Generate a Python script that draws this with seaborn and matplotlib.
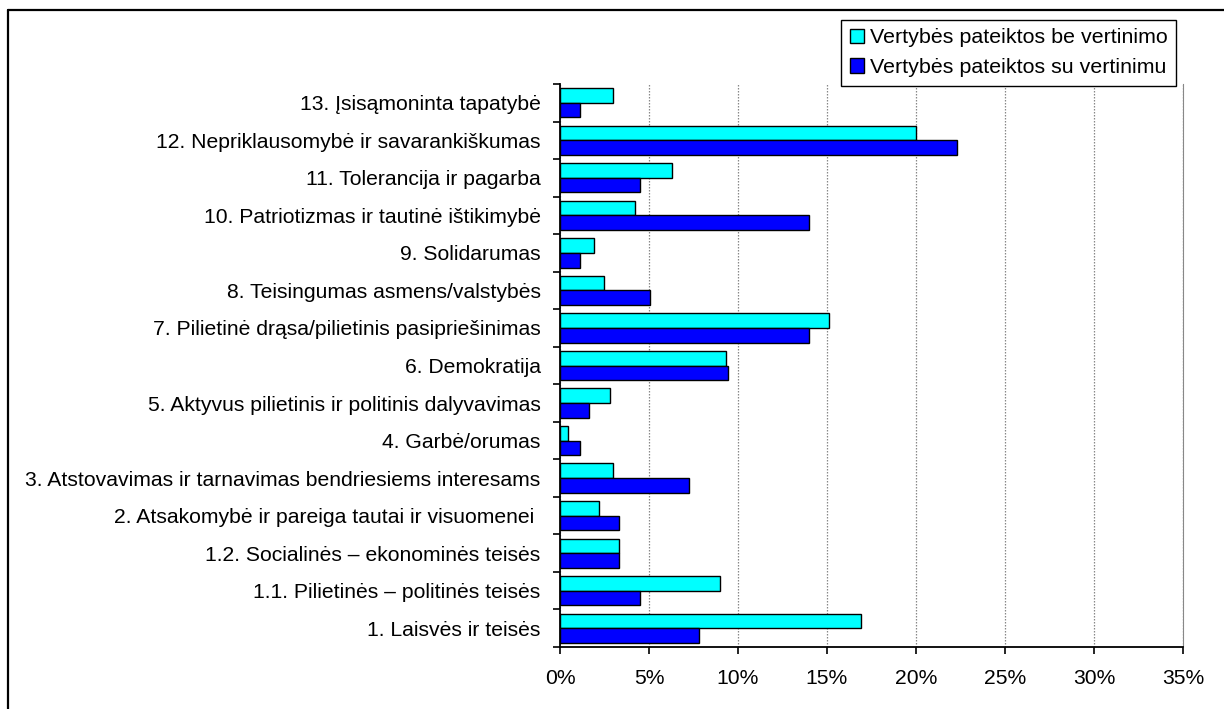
import numpy as np
import pandas as pd
import matplotlib
matplotlib.use('Agg')
import matplotlib.pyplot as plt
from matplotlib.lines import Line2D
from matplotlib.ticker import FixedLocator, PercentFormatter
import seaborn as sns

# ==========================================
# DATA (%)
# ==========================================
kategorijos = [
    '13. Įsisąmoninta tapatybė',
    '12. Nepriklausomybė ir savarankiškumas',
    '11. Tolerancija ir pagarba',
    '10. Patriotizmas ir tautinė ištikimybė',
    '9. Solidarumas',
    '8. Teisingumas asmens/valstybės',
    '7. Pilietinė drąsa/pilietinis pasipriešinimas',
    '6. Demokratija',
    '5. Aktyvus pilietinis ir politinis dalyvavimas',
    '4. Garbė/orumas',
    '3. Atstovavimas ir tarnavimas bendriesiems interesams',
    '2. Atsakomybė ir pareiga tautai ir visuomenei ',
    '1.2. Socialinės – ekonominės teisės',
    '1.1. Pilietinės – politinės teisės',
    '1. Laisvės ir teisės',
]
be_vertinimo = [3.0, 20.0, 6.3, 4.2, 1.9, 2.5, 15.1, 9.3, 2.8, 0.45, 3.0, 2.2, 3.3, 9.0, 16.9]
su_vertinimu = [1.1, 22.3, 4.5, 14.0, 1.1, 5.05, 14.0, 9.45, 1.65, 1.1, 7.25, 3.3, 3.3, 4.5, 7.8]
serijos = ['Vertybės pateiktos be vertinimo', 'Vertybės pateiktos su vertinimu']
spalvos = ['#00FFFF', '#0000FF']
x_ticks = [0, 5, 10, 15, 20, 25, 30, 35]

df = pd.DataFrame({
    'kategorija': kategorijos * 2,
    'reiksme': be_vertinimo + su_vertinimu,
    'serija': [serijos[0]] * len(kategorijos) + [serijos[1]] * len(kategorijos),
})

# ==========================================
# PLOT
# ==========================================
sns.set_style('white')
plt.rcParams['font.family'] = ['Liberation Sans', 'DejaVu Sans']
plt.rcParams['text.color'] = 'black'
plt.rcParams['xtick.color'] = 'black'
plt.rcParams['ytick.color'] = 'black'

fig = plt.figure(figsize=(12.24, 7.09), dpi=100)
ax = fig.add_axes([0.4575, 0.0874, 0.509, 0.7941])

sns.barplot(data=df, y='kategorija', x='reiksme', hue='serija',
            order=kategorijos, hue_order=serijos, palette=spalvos,
            orient='h', width=0.78, edgecolor='black', linewidth=1.0,
            saturation=1, ax=ax)

ax.set_xlim(0, 35)
ax.set_ylim(len(kategorijos) - 0.5, -0.5)
ax.xaxis.set_major_locator(FixedLocator(x_ticks))
ax.xaxis.set_major_formatter(PercentFormatter(decimals=0))
ax.set_xlabel('')
ax.set_ylabel('')

# gridlines
ax.grid(axis='x', color='#888888', linestyle=(0, (1.2, 1.2)), linewidth=0.9)
ax.grid(axis='y', visible=False)
ax.set_axisbelow(True)

# spines
ax.spines['top'].set_visible(False)
ax.spines['right'].set_color('#888888')
ax.spines['left'].set_color('black')
ax.spines['bottom'].set_color('black')
ax.spines['left'].set_linewidth(1.3)
ax.spines['bottom'].set_linewidth(1.3)

# ticks: labels at centers, tick marks at category boundaries (Excel style)
ax.set_yticks(np.arange(len(kategorijos)))
ax.set_yticklabels(kategorijos)
ax.yaxis.set_minor_locator(FixedLocator(np.arange(len(kategorijos) + 1) - 0.5))
ax.tick_params(axis='y', which='major', length=0, pad=14, labelsize=15.2)
ax.tick_params(axis='y', which='minor', left=True, length=5, width=1.2, color='black', direction='out')
ax.tick_params(axis='x', which='major', bottom=True, length=5, width=1.2, color='black',
               direction='out', pad=11, labelsize=15.2)

# legend
ax.legend_.remove()
handles = [plt.Rectangle((0, 0), 1, 1, facecolor=c, edgecolor='black', linewidth=1.0) for c in spalvos]
leg = fig.legend(handles, serijos, loc='upper right', bbox_to_anchor=(0.961, 0.972),
                 bbox_transform=fig.transFigure, borderaxespad=0, fontsize=15.4,
                 handlelength=0.65, handleheight=0.65, handletextpad=0.3,
                 labelspacing=0.5, borderpad=0.4, fancybox=False, framealpha=1)
leg.get_frame().set_edgecolor('black')
leg.get_frame().set_linewidth(1.0)

# outer frame (left and top edges visible)
x0 = 8 / 1224
y0 = 1 - 10 / 709
fig.add_artist(Line2D([x0, x0], [0, y0], color='black', linewidth=1.6, transform=fig.transFigure))
fig.add_artist(Line2D([x0, 1], [y0, y0], color='black', linewidth=1.6, transform=fig.transFigure))

fig.savefig('out.png', dpi=100)
